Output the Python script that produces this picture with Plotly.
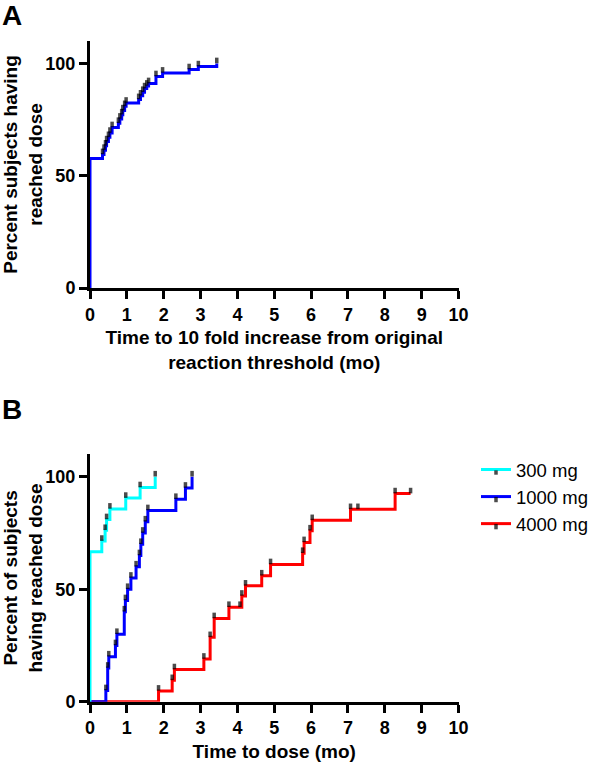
import plotly.graph_objects as go

# ---------------- data ----------------
# Panel A: time (mo) to 10-fold increase, percent reached
a_time = [0, 0, 0.34, 0.38, 0.42, 0.45, 0.50, 0.54, 0.60, 0.77, 0.81, 0.86, 0.89,
          0.94, 0.98, 1.32, 1.37, 1.43, 1.48, 1.54, 1.59, 1.79, 1.97, 2.69, 2.94, 3.44]
a_pct = [0, 57.7, 59.5, 61.4, 63.3, 65.2, 67.1, 69.0, 71.5, 73.4, 75.3, 77.2, 79.0,
         80.9, 82.4, 84.0, 85.6, 87.2, 88.8, 90.0, 91.1, 94.2, 95.8, 97.3, 98.6, 100]

# Panel B: time to dose (mo), percent reached, by dose group
mg300_time = [0, 0, 0.32, 0.41, 0.45, 0.54, 0.97, 1.36, 1.77]
mg300_pct = [0, 66.7, 71.4, 76.2, 81.0, 85.7, 90.5, 95.2, 100]

mg1000_time = [0, 0.43, 0.48, 0.51, 0.69, 0.73, 0.93, 0.96, 1.02, 1.11, 1.25,
               1.34, 1.38, 1.43, 1.50, 1.57, 2.33, 2.59, 2.77]
mg1000_pct = [0, 5, 15, 20, 25, 30, 40, 45, 50, 55, 60,
              65, 70, 75, 80, 85, 90, 95, 100]

mg4000_time = [0, 1.86, 2.23, 2.29, 3.09, 3.26, 3.37, 3.77, 4.07, 4.12, 4.22,
               4.66, 4.90, 5.77, 5.81, 5.97, 6.03, 7.07, 7.27, 8.28, 8.70]
mg4000_pct = [0, 4.8, 9.5, 14.3, 19.0, 28.6, 37.0, 42.0, 42.0, 47.0, 51.5,
              56.0, 61.0, 66.0, 70.8, 76.0, 80.6, 85.5, 85.5, 92.5, 92.5]

group_names = ["300 mg", "1000 mg", "4000 mg"]
x_ticks = list(range(0, 11))
y_ticks = [0, 50, 100]

# ---------------- style ----------------
W, H = 600, 764
FONT = "Arial, 'Liberation Sans', Helvetica, sans-serif"
COL = {"300 mg": "#00FFFF", "1000 mg": "#0000FF", "4000 mg": "#FF0000"}


def fx(px):
    """page pixel x -> paper x"""
    return px / W


def fy(py):
    """page pixel y -> paper y"""
    return (H - py) / H


def step_trace(t, p, color, name, xa, ya, showlegend):
    sizes = [0 if v == 0 else 4 for v in t]
    return go.Scatter(
        x=t, y=p, name=name, mode="lines+markers", line_shape="hv",
        line=dict(color=color, width=3),
        marker=dict(symbol="line-ns", size=sizes, color="black", angle=180,
                    line=dict(color="black", width=3.5), standoff=3),
        xaxis=xa, yaxis=ya, showlegend=showlegend, cliponaxis=False,
    )


fig = go.Figure()
fig.add_trace(step_trace(a_time, a_pct, "#0000FF", "all", "x", "y", False))
fig.add_trace(step_trace(mg4000_time, mg4000_pct, COL["4000 mg"], group_names[2], "x2", "y2", True))
fig.add_trace(step_trace(mg1000_time, mg1000_pct, COL["1000 mg"], group_names[1], "x2", "y2", True))
fig.add_trace(step_trace(mg300_time, mg300_pct, COL["300 mg"], group_names[0], "x2", "y2", True))

axis_common = dict(showline=True, linecolor="black", linewidth=3, ticks="outside",
                   ticklen=8, tickwidth=2.5, tickcolor="black", showgrid=False,
                   zeroline=False, layer="below traces", automargin=False,
                   tickfont=dict(family=FONT, size=18, color="black", weight="bold"))

title_font = dict(family=FONT, size=19, color="black", weight="bold")

fig.update_layout(
    width=W, height=H, margin=dict(l=0, r=0, t=0, b=0, autoexpand=False),
    plot_bgcolor="white", paper_bgcolor="white",
    font=dict(family=FONT, color="black"),
    xaxis=dict(domain=[fx(90), fx(458.5)], range=[0, 10], tickvals=x_ticks, anchor="y",
               title=dict(text="Time to 10 fold increase from original<br>reaction threshold (mo)",
                          font=title_font, standoff=8),
               **axis_common),
    yaxis=dict(domain=[fy(288), fy(41)], range=[0, 110], tickvals=y_ticks, anchor="x",
               title=dict(text="Percent subjects having<br>reached dose", font=title_font, standoff=19),
               **axis_common),
    xaxis2=dict(domain=[fx(90), fx(458.5)], range=[0, 10], tickvals=x_ticks, anchor="y2",
                title=dict(text="Time to dose (mo)", font=title_font, standoff=8),
                **axis_common),
    yaxis2=dict(domain=[fy(701.7), fy(454.2)], range=[0, 110], tickvals=y_ticks, anchor="x2",
                title=dict(text="Percent of subjects<br>having reached dose", font=title_font, standoff=19),
                **axis_common),
    legend=dict(x=fx(476), y=fy(451), xanchor="left", yanchor="top",
                traceorder="reversed", font=dict(family=FONT, size=18.5, color="black"),
                bgcolor="rgba(0,0,0,0)", borderwidth=0, itemwidth=30),
    annotations=[
        dict(text="A", x=fx(0), y=fy(-2), xref="paper", yref="paper", xanchor="left",
             yanchor="top", showarrow=False, font=dict(family=FONT, size=28, weight="bold")),
        dict(text="B", x=fx(0), y=fy(392), xref="paper", yref="paper", xanchor="left",
             yanchor="top", showarrow=False, font=dict(family=FONT, size=28, weight="bold")),
    ],
)

# remove the browser's default 8px page margin so the figure fills the window
fig.write_html("out.html", config={"displayModeBar": False},
               post_script="document.body.style.margin='0';")
